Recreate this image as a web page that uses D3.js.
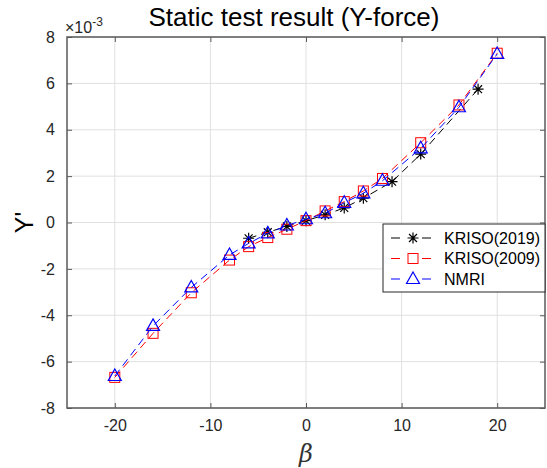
<!DOCTYPE html>
<html>
<head>
<meta charset="utf-8">
<script src="https://cdn.jsdelivr.net/npm/d3@7"></script>
<style>
  body { margin: 0; background: #fff; }
  svg { font-family: Arial, "Liberation Sans", sans-serif; }
</style>
</head>
<body>
<div id="chart"></div>
<script>
// DATA (values in units of 1e-3)
var betaKriso2019 = [-6, -4, -2, 0, 2, 4, 6, 9, 12, 18];
var yKriso2019 = [-0.68, -0.42, -0.17, 0.08, 0.33, 0.63, 1.05, 1.76, 2.95, 5.75];

var betaKriso2009 = [-20, -16, -12, -8, -6, -4, -2, 0, 2, 4, 6, 8, 12, 16, 20];
var yKriso2009 = [-6.68, -4.78, -3.03, -1.62, -1.04, -0.65, -0.29, 0.08, 0.5, 0.9, 1.36, 1.9, 3.44, 5.07, 7.3];

var betaNmri = [-20, -16, -12, -8, -6, -4, -2, 0, 2, 4, 6, 8, 12, 16, 20];
var yNmri = [-6.62, -4.46, -2.8, -1.4, -0.9, -0.47, -0.13, 0.14, 0.4, 0.85, 1.26, 1.8, 3.2, 4.97, 7.27];

var xTicks = [-20, -10, 0, 10, 20];
var yTicks = [-8, -6, -4, -2, 0, 2, 4, 6, 8];

var series = [
  { name: "KRISO(2019)", color: "#000000", marker: "star", xs: betaKriso2019, ys: yKriso2019 },
  { name: "KRISO(2009)", color: "#ff0000", marker: "square", xs: betaKriso2009, ys: yKriso2009 },
  { name: "NMRI", color: "#0000ff", marker: "triangle", xs: betaNmri, ys: yNmri }
];

// CHART SETUP
var margin = { top: 37, right: 2, bottom: 60, left: 67 },
  width = 547 - margin.left - margin.right,
  height = 468 - margin.top - margin.bottom;

var svgRoot = d3.select("#chart").append("svg")
  .attr("width", 547)
  .attr("height", 468);

var svg = svgRoot.append("g")
  .attr("transform", "translate(" + margin.left + "," + margin.top + ")");

var xScale = d3.scaleLinear().domain([-25, 25]).range([0, width]);
var yScale = d3.scaleLinear().domain([-8, 8]).range([height, 0]);

var axisColor = "#262626";
var frameColor = "#5a5a5a";
var fmt = d => String(d); // plain hyphen minus like the original

// GRID
svg.append("g").selectAll("line").data(xTicks).enter().append("line")
  .attr("x1", d => xScale(d)).attr("x2", d => xScale(d))
  .attr("y1", 0).attr("y2", height)
  .attr("stroke", "#e0e0e0").attr("stroke-width", 1);
svg.append("g").selectAll("line").data(yTicks).enter().append("line")
  .attr("x1", 0).attr("x2", width)
  .attr("y1", d => yScale(d)).attr("y2", d => yScale(d))
  .attr("stroke", "#e0e0e0").attr("stroke-width", 1);

// AXES (ticks inside)
var xAxis = d3.axisBottom(xScale).tickValues(xTicks).tickFormat(fmt).tickSizeInner(-5).tickSizeOuter(0).tickPadding(12);
var yAxis = d3.axisLeft(yScale).tickValues(yTicks).tickFormat(fmt).tickSizeInner(-5).tickSizeOuter(0).tickPadding(12);

svg.append("g").attr("transform", "translate(0," + height + ")").call(xAxis)
  .call(g => g.selectAll("text").style("font-size", "16px").attr("fill", axisColor))
  .call(g => g.selectAll("line").attr("stroke", frameColor))
  .call(g => g.select(".domain").remove());
svg.append("g").call(yAxis)
  .call(g => g.selectAll("text").style("font-size", "16px").attr("fill", axisColor))
  .call(g => g.selectAll("line").attr("stroke", frameColor))
  .call(g => g.select(".domain").remove());
svg.append("g").call(d3.axisTop(xScale).tickValues(xTicks).tickSizeInner(-5).tickSizeOuter(0).tickFormat(""))
  .call(g => g.selectAll("line").attr("stroke", frameColor))
  .call(g => g.select(".domain").remove());
svg.append("g").attr("transform", "translate(" + width + ",0)")
  .call(d3.axisRight(yScale).tickValues(yTicks).tickSizeInner(-5).tickSizeOuter(0).tickFormat(""))
  .call(g => g.selectAll("line").attr("stroke", frameColor))
  .call(g => g.select(".domain").remove());

// FRAME
svg.append("rect")
  .attr("x", 0).attr("y", 0).attr("width", width).attr("height", height)
  .attr("fill", "none").attr("stroke", frameColor).attr("stroke-width", 1.5);

// MARKERS
function drawMarker(g, type, color) {
  if (type === "star") {
    var r = 5.5;
    g.append("path")
      .attr("d", "M" + (-r) + ",0L" + r + ",0M0," + (-r) + "L0," + r +
        "M" + (-r * 0.72) + "," + (-r * 0.72) + "L" + (r * 0.72) + "," + (r * 0.72) +
        "M" + (-r * 0.72) + "," + (r * 0.72) + "L" + (r * 0.72) + "," + (-r * 0.72))
      .attr("stroke", color).attr("stroke-width", 1.2).attr("fill", "none");
  } else if (type === "square") {
    g.append("rect").attr("x", -5).attr("y", -5).attr("width", 10).attr("height", 10)
      .attr("stroke", color).attr("stroke-width", 1).attr("fill", "none");
  } else {
    g.append("path").attr("d", "M0,-7L6.5,4.5L-6.5,4.5Z")
      .attr("stroke", color).attr("stroke-width", 1.2).attr("fill", "none");
  }
}

var line = d3.line().x(d => xScale(d[0])).y(d => yScale(d[1]));

series.forEach(function (s) {
  var pts = s.xs.map((x, i) => [x, s.ys[i]]);
  svg.append("path").datum(pts)
    .attr("d", line)
    .attr("fill", "none")
    .attr("stroke", s.color)
    .attr("stroke-width", 1)
    .attr("stroke-dasharray", "8,5");
  svg.append("g").selectAll("g").data(pts).enter().append("g")
    .attr("transform", d => "translate(" + xScale(d[0]) + "," + yScale(d[1]) + ")")
    .each(function () { drawMarker(d3.select(this), s.marker, s.color); });
});

// LEGEND
var legend = svgRoot.append("g").attr("transform", "translate(383,224)");
legend.append("rect").attr("x", 0).attr("y", 0).attr("width", 162).attr("height", 68)
  .attr("fill", "#fff").attr("stroke", axisColor).attr("stroke-width", 1);
series.forEach(function (s, i) {
  var ly = 14 + i * 20.5;
  var row = legend.append("g").attr("transform", "translate(0," + ly + ")");
  row.append("line").attr("x1", 8).attr("x2", 58).attr("y1", 0).attr("y2", 0)
    .attr("stroke", s.color).attr("stroke-width", 1).attr("stroke-dasharray", "9,22");
  var m = row.append("g").attr("transform", "translate(30,0)");
  drawMarker(m, s.marker, s.color);
  row.append("text").attr("x", 61).attr("y", 0).attr("dy", "0.35em")
    .style("font-size", "16px").attr("fill", "#000").text(s.name);
});

// TITLE & LABELS
svgRoot.append("text").attr("x", 294).attr("y", 26).attr("text-anchor", "middle")
  .style("font-size", "26px").attr("fill", "#000").text("Static test result (Y-force)");

var expo = svgRoot.append("text").attr("x", 65).attr("y", 33)
  .style("font-size", "16px").attr("fill", axisColor);
expo.append("tspan").text("\u00d710");
expo.append("tspan").attr("dy", -7).style("font-size", "12px").text("-3");

svgRoot.append("text")
  .attr("transform", "translate(33," + (margin.top + yScale(0)) + ") rotate(-90)")
  .attr("text-anchor", "middle")
  .style("font-size", "25px").attr("fill", "#000").text("Y'");

svgRoot.append("text").attr("x", margin.left + xScale(0)).attr("y", 462)
  .attr("text-anchor", "middle")
  .style("font-family", "'DejaVu Serif', 'Liberation Serif', serif")
  .style("font-style", "italic")
  .style("font-size", "24px").attr("fill", "#333").text("\u03b2");
</script>
</body>
</html>
